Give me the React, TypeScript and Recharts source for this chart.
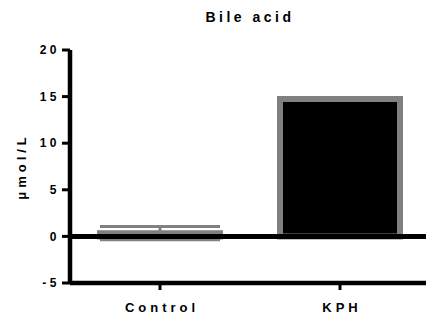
import { BarChart, Bar, XAxis, YAxis, ErrorBar, ReferenceLine, Label } from "recharts";

const groups = ["Control", "KPH"];
const means = [0.35, 14.74];
const errors = [0.72, 0];
const yTicks = [-5, 0, 5, 10, 15, 20];

const data = groups.map((g, i) => ({ group: g, value: means[i], err: errors[i] }));

const FONT = '"Liberation Sans", Arial, sans-serif';
const GREY = "#808080";

function YLabel({ viewBox }: any) {
  const cx = viewBox.x + 21;
  const cy = viewBox.y + viewBox.height / 2;
  return (
    <text
      x={cx}
      y={cy}
      transform={`rotate(-90 ${cx} ${cy})`}
      textAnchor="middle"
      dominantBaseline="central"
      fontFamily={FONT}
      fontWeight="bold"
      fontSize={13}
      letterSpacing={4}
      fill="#000"
    >
      μmol/L
    </text>
  );
}

export default function App() {
  return (
    <div style={{ position: "fixed", left: 0, top: 0, width: 426, height: 320, overflow: "hidden", background: "#fff" }}>
      <div
        style={{
          position: "absolute",
          left: 0,
          width: 500,
          top: 10,
          fontFamily: FONT,
          fontWeight: "bold",
          fontSize: 14,
          lineHeight: "14px",
          letterSpacing: 3.5,
        }}
      >
        <span style={{ position: "absolute", left: 250, transform: "translateX(-50%)", whiteSpace: "nowrap" }}>Bile acid</span>
      </div>
      <BarChart width={440} height={320} data={data} margin={{ top: 50, right: 10, bottom: 0, left: 0 }} barSize={120}>
        <XAxis
          dataKey="group"
          height={37}
          axisLine={{ stroke: "#000", strokeWidth: 4.5 }}
          tickLine={{ stroke: "#000", strokeWidth: 3 }}
          tickSize={7}
          tickMargin={13}
          tick={{ fill: "#000", fontFamily: FONT, fontWeight: "bold", fontSize: 13, letterSpacing: 4, dx: 2 }}
        />
        <YAxis
          width={70}
          domain={[-5, 20]}
          ticks={yTicks}
          interval={0}
          axisLine={{ stroke: "#000", strokeWidth: 4.5 }}
          tickLine={{ stroke: "#000", strokeWidth: 3 }}
          tickSize={8}
          tick={{ fill: "#000", fontFamily: FONT, fontWeight: "bold", fontSize: 12, letterSpacing: 3.5 }}
        >
          <Label content={<YLabel />} />
        </YAxis>
        <Bar dataKey="value" fill="#000" stroke={GREY} strokeWidth={6} isAnimationActive={false}>
          <ErrorBar dataKey="err" width={60} stroke={GREY} strokeWidth={3} isAnimationActive={false} />
        </Bar>
        <ReferenceLine y={0} stroke="#000" strokeWidth={5} />
      </BarChart>
    </div>
  );
}
